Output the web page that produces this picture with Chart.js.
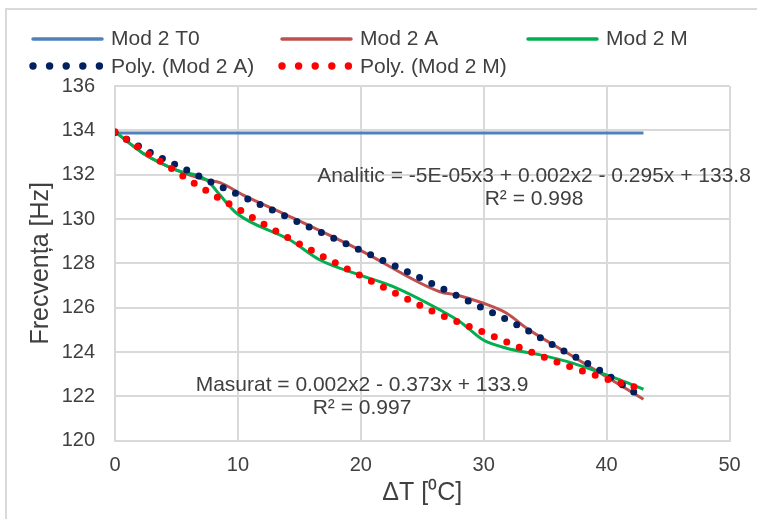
<!DOCTYPE html>
<html>
<head>
<meta charset="utf-8">
<script src="https://cdn.jsdelivr.net/npm/chart.js@4/dist/chart.umd.min.js"></script>
<style>
  html, body { margin: 0; padding: 0; background: #fff; }
</style>
</head>
<body>
<canvas id="chart" width="757" height="519"></canvas>
<script>
// values (x = ΔT, y = frequency in Hz)
const t0X = [0, 43];
const t0Y = [133.88, 133.88];

const modAX = [0, 2.3, 5.0, 7.46, 8.54, 10.44, 13.97, 19.93, 26.44, 27.8, 29.97, 31.87, 33.5, 37.29, 41.09, 43];
const modAY = [133.94, 132.96, 132.21, 131.76, 131.64, 131.08, 130.18, 128.6, 126.72, 126.57, 126.2, 125.75, 125.07, 123.79, 122.51, 121.87];

const modMX = [0, 2.3, 5.0, 7.46, 8.54, 9.9, 14.24, 16.68, 19.93, 22.64, 26.44, 28.07, 29.97, 31.87, 34.59, 37.29, 41.09, 43];
const modMY = [133.94, 132.96, 132.21, 131.76, 131.08, 130.26, 129.05, 128.15, 127.47, 126.95, 125.9, 125.37, 124.54, 124.17, 123.87, 123.49, 122.74, 122.32];

const polyAX = [0, 3.12, 5.29, 7.46, 9.63, 11.8, 13.97, 17.23, 20.34, 23.6, 26.71, 29.97, 33.09, 36.21, 39.41, 42.45, 43];
const polyAY = [133.9, 132.93, 132.36, 131.76, 131.2, 130.66, 130.1, 129.28, 128.5, 127.67, 126.84, 125.97, 125.12, 124.14, 123.19, 122.11, 121.93];

const polyMX = [0, 2.03, 4.07, 6.1, 8.16, 10.25, 12.34, 16.54, 19.72, 22.92, 26.12, 30.52, 33.77, 37.02, 40.41, 42.72, 43];
const polyMY = [133.94, 133.19, 132.47, 131.73, 131.04, 130.38, 129.69, 128.42, 127.52, 126.62, 125.77, 124.77, 124.02, 123.34, 122.71, 122.35, 122.3];

const xTicks = [0, 10, 20, 30, 40, 50];
const yTicks = [120, 122, 124, 126, 128, 130, 132, 134, 136];

const eqA = ['Analitic = -5E-05x3 + 0.002x2 - 0.295x + 133.8', 'R² = 0.998'];
const eqM = ['Masurat = 0.002x2 - 0.373x + 133.9', 'R² = 0.997'];

const FONT = "'Liberation Sans', Arial, sans-serif";
const TEXT = '#404040';
const GRID = '#D9D9D9';

function pts(xs, ys) {
  return xs.map((x, i) => ({ x, y: ys[i] }));
}

// white background and the light frame round the chart
const frame = {
  id: 'frame',
  beforeDraw(chart) {
    const ctx = chart.ctx;
    ctx.save();
    ctx.fillStyle = '#fff';
    ctx.fillRect(0, 0, chart.width, chart.height);
    ctx.strokeStyle = GRID;
    ctx.lineWidth = 2;
    ctx.strokeRect(6, 9, chart.width + 20, chart.height + 20);
    ctx.restore();
  }
};

// legend laid out in two rows like the Excel one
const legendRows = {
  id: 'legendRows',
  afterDraw(chart) {
    const ctx = chart.ctx;
    const ds = chart.data.datasets;
    const slots = [
      { i: 0, x: 33, y: 39 },
      { i: 1, x: 282, y: 39 },
      { i: 2, x: 528, y: 39 },
      { i: 3, x: 33, y: 67 },
      { i: 4, x: 282, y: 67 }
    ];
    ctx.save();
    ctx.font = '21px ' + FONT;
    ctx.textBaseline = 'middle';
    ctx.fillStyle = TEXT;
    slots.forEach(s => {
      const d = ds[s.i];
      if (d.borderDash && d.borderDash.length) {
        ctx.fillStyle = d.borderColor;
        for (let k = 0; k < 5; k++) {
          ctx.beginPath();
          ctx.arc(s.x + k * 16.6, s.y - 1, 3.7, 0, Math.PI * 2);
          ctx.fill();
        }
      } else {
        ctx.strokeStyle = d.borderColor;
        ctx.lineWidth = 3.5;
        ctx.lineCap = 'round';
        ctx.beginPath();
        ctx.moveTo(s.x, s.y);
        ctx.lineTo(s.x + 69, s.y);
        ctx.stroke();
      }
      ctx.fillStyle = TEXT;
      ctx.fillText(d.label, s.x + 78, s.y);
    });
    ctx.restore();
  }
};

// trendline equations
const equations = {
  id: 'equations',
  afterDraw(chart) {
    const ctx = chart.ctx;
    ctx.save();
    ctx.font = '21px ' + FONT;
    ctx.fillStyle = TEXT;
    ctx.textAlign = 'center';
    ctx.textBaseline = 'middle';
    ctx.fillText(eqA[0], 534, 176);
    ctx.fillText(eqA[1], 534, 199);
    ctx.fillText(eqM[0], 362, 385);
    ctx.fillText(eqM[1], 362, 408);
    ctx.restore();
  }
};

new Chart(document.getElementById('chart'), {
  type: 'scatter',
  data: {
    datasets: [
      { label: 'Mod 2 T0', data: pts(t0X, t0Y), borderColor: '#4F81BD', borderWidth: 3, order: 4 },
      { label: 'Mod 2 A', data: pts(modAX, modAY), borderColor: '#C0504D', borderWidth: 3, order: 3 },
      { label: 'Mod 2 M', data: pts(modMX, modMY), borderColor: '#00B050', borderWidth: 3, order: 2 },
      { label: 'Poly. (Mod 2 A)', data: pts(polyAX, polyAY), borderColor: '#002060', borderWidth: 7,
        borderDash: [0, 13.5], borderCapStyle: 'round', order: 1 },
      { label: 'Poly. (Mod 2 M)', data: pts(polyMX, polyMY), borderColor: '#FF0000', borderWidth: 7,
        borderDash: [0, 13.5], borderCapStyle: 'round', order: 0 }
    ].map(d => Object.assign({ showLine: true, pointRadius: 0, tension: 0.4, cubicInterpolationMode: 'monotone',
      backgroundColor: d.borderColor }, d))
  },
  options: {
    responsive: false,
    animation: false,
    devicePixelRatio: 1,
    layout: { padding: { top: 86, right: 27.5, left: 0, bottom: 0 } },
    plugins: { legend: { display: false }, tooltip: { enabled: false } },
    scales: {
      x: {
        type: 'linear', min: 0, max: 50,
        afterBuildTicks: s => { s.ticks = xTicks.map(v => ({ value: v })); },
        afterFit: s => { s.height = 519 - 440.7; },
        grid: { color: GRID, lineWidth: 2, drawTicks: false },
        border: { color: GRID, width: 2 },
        ticks: { color: TEXT, font: { family: FONT, size: 20 }, padding: 13 },
        title: { display: true, text: 'ΔT [⁰C]', color: TEXT, font: { family: FONT, size: 25 }, padding: { bottom: 11, top: 0 } }
      },
      y: {
        type: 'linear', min: 120, max: 136,
        afterBuildTicks: s => { s.ticks = yTicks.map(v => ({ value: v })); },
        afterFit: s => { s.width = 115; },
        grid: { color: GRID, lineWidth: 2, drawTicks: false },
        border: { color: GRID, width: 2 },
        ticks: { color: TEXT, font: { family: FONT, size: 20 }, padding: 20 },
        title: { display: true, text: 'Frecvența [Hz]', color: TEXT, font: { family: FONT, size: 25 }, padding: { top: 26, bottom: 0 } }
      }
    }
  },
  plugins: [frame, legendRows, equations]
});
</script>
</body>
</html>
